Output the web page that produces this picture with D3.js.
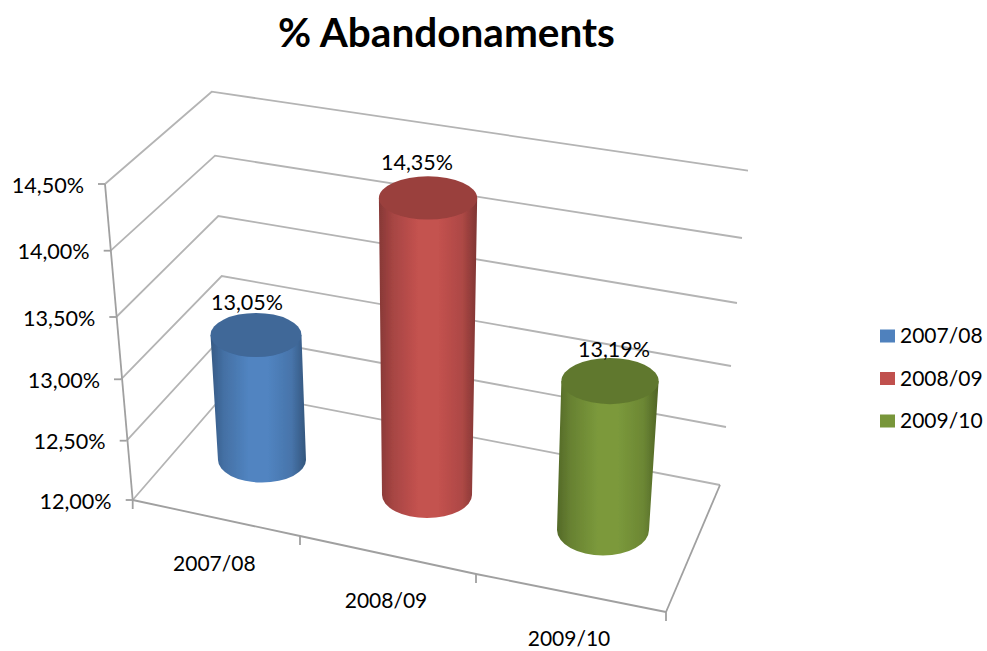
<!DOCTYPE html>
<html><head><meta charset="utf-8">
<script src="https://d3js.org/d3.v7.min.js"></script>
<style>html,body{margin:0;padding:0;background:#fff}svg{display:block}text{font-family:Lato,"Open Sans",sans-serif;fill:#000}</style>
</head><body><svg id="c" width="987" height="651"></svg>
<script>
// ---- data ----
const categories = ["2007/08", "2008/09", "2009/10"];
const values = [13.05, 14.35, 13.19];
const valueLabels = ["13,05%", "14,35%", "13,19%"];
const colors = ["#4F81BD", "#C0504D", "#78963A"];
const axisTicks = [12, 12.5, 13, 13.5, 14, 14.5];
const tickLabels = ["12,00%", "12,50%", "13,00%", "13,50%", "14,00%", "14,50%"];
const title = "% Abandonaments";

// ---- perspective layout, expressed as scales ----
const piece = r => d3.scaleLinear().domain(axisTicks).range(r);
const frontX = piece([132.7, 126.7, 121, 116.3, 110.7, 105]);
const frontY = piece([500, 440.7, 379.3, 317, 250.7, 184]);
const backX = piece([228, 225, 221.7, 218.3, 215, 211.7]);
const backY = piece([390, 334, 276, 216, 155.7, 91.7]);
const rightX = piece([720, 726, 731, 737, 742, 748]);
const rightY = piece([485, 427, 366, 303, 238, 170.7]);
const catIdx = [0, 1, 2, 3];
const baseX = d3.scaleLinear().domain(catIdx).range([132.7, 300, 476, 666]);
const baseY = d3.scaleLinear().domain(catIdx).range([500, 536, 574, 612]);
const cylX = categories.map((_, i) => d3.scaleLinear().domain([12, 14.5]).range([[262, 247.7], [427, 428.1], [603, 617.7]][i]));
const cylY = categories.map((_, i) => d3.scaleLinear().domain([12, 14.5]).range([[460, 162.4], [495, 179], [530, 217]][i]));
const cylRx = categories.map((_, i) => d3.scaleLinear().domain([12, 14.5]).range([[44, 47.5], [45, 49.4], [46, 51.5]][i]));
const cylRy = categories.map((_, i) => d3.scaleLinear().domain([12, 14.5]).range([[22.5, 21.5], [23, 21.5], [25.5, 20.5]][i]));
const labelDx = [-9, -11, 4], labelDy = [-33, -35, -32];

const svg = d3.select("#c");
const defs = svg.append("defs");
defs.append("filter").attr("id", "soft").attr("x", "-5%").attr("y", "-5%").attr("width", "110%").attr("height", "110%")
  .append("feGaussianBlur").attr("stdDeviation", 0.5);
defs.append("filter").attr("id", "soft2").attr("x", "-5%").attr("y", "-5%").attr("width", "110%").attr("height", "110%")
  .append("feGaussianBlur").attr("stdDeviation", 0.5);

colors.forEach((c, i) => {
  const g = defs.append("linearGradient").attr("id", "g" + i);
  const base = d3.color(c);
  [[0, base.darker(1.0)], [0.14, base.darker(0.4)], [0.4, base.brighter(0.06)], [0.6, base.brighter(0.06)],
   [0.85, base.darker(0.3)], [1, base.darker(1.15)]]
    .forEach(([o, col]) => g.append("stop").attr("offset", o).attr("stop-color", col));
});

// ---- walls and floor ----
const grid = svg.append("g").attr("fill", "none").attr("stroke", "#b4b4b4").attr("stroke-width", 1.8).attr("filter", "url(#soft)");
const line = d3.line();
axisTicks.forEach(t => {
  grid.append("path").attr("d", line([[frontX(t), frontY(t)], [backX(t), backY(t)], [rightX(t), rightY(t)]]));
  grid.append("path").attr("stroke", "#a0a0a0").attr("d", line([[frontX(t) - 7, frontY(t)], [frontX(t), frontY(t)]]));
});
grid.append("path").attr("stroke", "#a0a0a0").attr("d", line([[frontX(14.5), frontY(14.5)], [frontX(12), frontY(12)]]));
grid.append("path").attr("stroke", "#a0a0a0").attr("d", line(catIdx.map(i => [baseX(i), baseY(i)])));
grid.append("path").attr("stroke", "#a0a0a0").attr("d", line([[baseX(3), baseY(3)], [rightX(12), rightY(12)]]));
catIdx.forEach(i => grid.append("path").attr("stroke", "#a0a0a0")
  .attr("d", line([[baseX(i), baseY(i)], [baseX(i), baseY(i) + 9]])));

// ---- cylinders ----
const cyl = svg.append("g").attr("filter", "url(#soft2)");
categories.forEach((_, i) => {
  const x0 = cylX[i](12), y0 = cylY[i](12), rx0 = cylRx[i](12), ry0 = cylRy[i](12);
  const v = values[i];
  const x1 = cylX[i](v), y1 = cylY[i](v), rx1 = cylRx[i](v), ry1 = cylRy[i](v);
  cyl.append("path").attr("fill", `url(#g${i})`)
    .attr("d", `M${x1 - rx1},${y1} L${x0 - rx0},${y0} A${rx0},${ry0} 0 0 0 ${x0 + rx0},${y0} L${x1 + rx1},${y1} Z`);
  cyl.append("ellipse").attr("cx", x1).attr("cy", y1).attr("rx", rx1).attr("ry", ry1)
    .attr("fill", d3.color(colors[i]).darker(0.62));
});

// ---- text ----
svg.selectAll(".ytick").data(axisTicks).join("text").attr("class", "ytick")
  .attr("x", d => frontX(d) - 21).attr("y", d => frontY(d) + 1).attr("dy", "0.35em")
  .attr("text-anchor", "end").attr("font-size", 21.6).text((d, i) => tickLabels[i]);
svg.selectAll(".xcat").data(categories).join("text").attr("class", "xcat")
  .attr("x", (d, i) => (baseX(i) + baseX(i + 1)) / 2 - 2)
  .attr("y", (d, i) => (baseY(i) + baseY(i + 1)) / 2 + 46).attr("dy", "0.35em")
  .attr("text-anchor", "middle").attr("font-size", 21).text(d => d);
svg.selectAll(".vlab").data(values).join("text").attr("class", "vlab")
  .attr("x", (d, i) => cylX[i](d) + labelDx[i]).attr("y", (d, i) => cylY[i](d) + labelDy[i]).attr("dy", "0.35em")
  .attr("text-anchor", "middle").attr("font-size", 21.5).text((d, i) => valueLabels[i]);
svg.append("text").attr("x", 446.5).attr("y", 33).attr("dy", "0.35em").attr("text-anchor", "middle")
  .attr("font-size", 40.5).attr("font-weight", 700).text(title);

// ---- legend ----
const legendY = d3.scalePoint().domain(categories).range([336, 421]);
const leg = svg.selectAll(".leg").data(categories).join("g").attr("class", "leg")
  .attr("transform", d => `translate(880,${legendY(d)})`);
leg.append("rect").attr("y", -6.5).attr("width", 15).attr("height", 13).attr("fill", (d, i) => colors[i]);
leg.append("text").attr("x", 20).attr("dy", "0.35em").attr("font-size", 21).text(d => d);
</script></body></html>
